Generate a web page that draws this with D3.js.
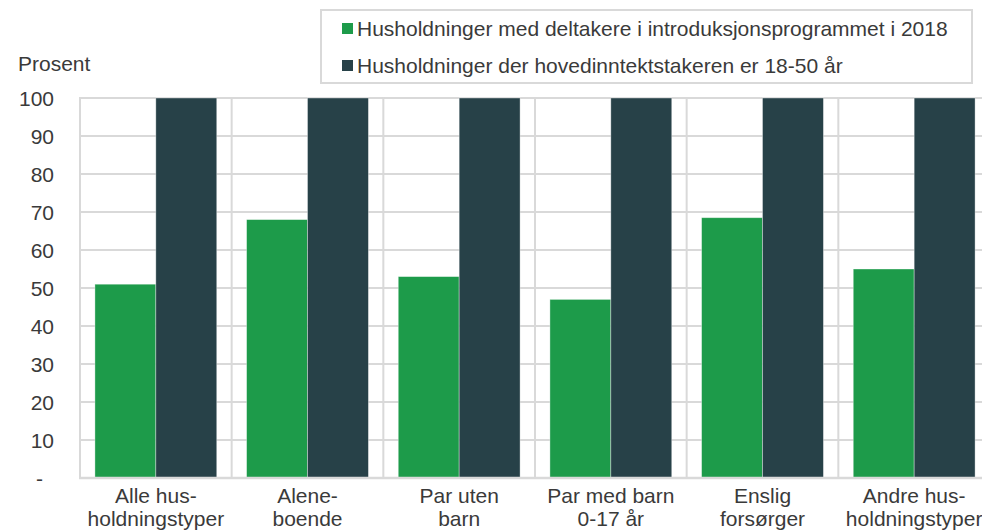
<!DOCTYPE html>
<html>
<head>
<meta charset="utf-8">
<script src="https://cdn.jsdelivr.net/npm/d3@7"></script>
<style>
  html, body { margin: 0; padding: 0; background: #fff; overflow: hidden; }
  svg { display: block; font-family: 'Liberation Sans', Arial, sans-serif; }
</style>
</head>
<body>
<script>
// category labels (two lines each)
const categories = [
  ['Alle hus-', 'holdningstyper'],
  ['Alene-', 'boende'],
  ['Par uten', 'barn'],
  ['Par med barn', '0-17 år'],
  ['Enslig', 'forsørger'],
  ['Andre hus-', 'holdningstyper']
]
const seriesNames = [
  'Husholdninger med deltakere i introduksjonsprogrammet i 2018',
  'Husholdninger der hovedinntektstakeren er 18-50 år'
]
const introValues = [51, 68, 53, 47, 68.5, 55]
const allValues = [100, 100, 100, 100, 100, 100]
const yTicks = [0, 10, 20, 30, 40, 50, 60, 70, 80, 90, 100]
const yTickLabels = ['-', '10', '20', '30', '40', '50', '60', '70', '80', '90', '100']

const colors = ['#1d9b4a', '#274148']
const textColor = '#3a3a3a'
const fontSize = 21
const width = 982
const height = 531
const plot = { left: 80, right: 990, top: 98, bottom: 478 }

const svg = d3.select('body').append('svg')
  .attr('width', width)
  .attr('height', height)

const x = d3.scaleBand()
  .domain(d3.range(categories.length))
  .range([plot.left, plot.right])

const xInner = d3.scaleBand()
  .domain([0, 1])
  .range([0, x.bandwidth()])
  .paddingOuter(0.245)
  .paddingInner(0)

const y = d3.scaleLinear().domain([0, 100]).range([plot.bottom, plot.top])

// horizontal gridlines
svg.append('g')
  .selectAll('line')
  .data(yTicks.slice(1))
  .enter().append('line')
  .attr('x1', plot.left)
  .attr('x2', plot.right)
  .attr('y1', d => y(d))
  .attr('y2', d => y(d))
  .attr('stroke', '#d9d9d9')
  .attr('stroke-width', 2)

// vertical separators between categories
svg.append('g')
  .selectAll('line')
  .data(d3.range(categories.length + 1))
  .enter().append('line')
  .attr('x1', i => plot.left + i * x.step())
  .attr('x2', i => plot.left + i * x.step())
  .attr('y1', plot.top - 1)
  .attr('y2', plot.bottom)
  .attr('stroke', '#d9d9d9')
  .attr('stroke-width', 2)

// bars
const series = [introValues, allValues]
series.forEach((values, s) => {
  svg.append('g')
    .selectAll('rect')
    .data(values)
    .enter().append('rect')
    .attr('x', (d, i) => x(i) + xInner(s))
    .attr('y', d => y(d))
    .attr('width', xInner.bandwidth())
    .attr('height', d => y(0) - y(d))
    .attr('fill', colors[s])
    .attr('stroke', 'rgba(255,255,255,0.45)')
    .attr('stroke-width', 0.8)
})

// baseline
svg.append('line')
  .attr('x1', plot.left - 1)
  .attr('x2', plot.right)
  .attr('y1', y(0))
  .attr('y2', y(0))
  .attr('stroke', '#d9d9d9')
  .attr('stroke-width', 2.5)

// y axis labels
const yAxis = d3.axisLeft(y)
  .tickValues(yTicks)
  .tickFormat((d, i) => yTickLabels[i])
  .tickSize(0)
  .tickPadding(0)

const yg = svg.append('g')
  .attr('transform', 'translate(54,0)')
  .call(yAxis)
yg.select('.domain').remove()
yg.selectAll('text')
  .attr('font-size', fontSize)
  .attr('font-family', "'Liberation Sans', Arial, sans-serif")
  .attr('fill', textColor)
  .attr('dy', '0.35em')
  .attr('dx', d => d === 0 ? -11 : 0)

svg.append('text')
  .attr('x', 18)
  .attr('y', 71)
  .attr('font-size', fontSize)
  .attr('fill', textColor)
  .text('Prosent')

// x axis labels
const xl = svg.append('g')
  .selectAll('text')
  .data(categories)
  .enter().append('text')
  .attr('text-anchor', 'middle')
  .attr('font-size', fontSize)
  .attr('fill', textColor)
xl.append('tspan')
  .attr('x', (d, i) => x(i) + x.bandwidth() / 2)
  .attr('y', 503)
  .text(d => d[0])
xl.append('tspan')
  .attr('x', (d, i) => x(i) + x.bandwidth() / 2)
  .attr('y', 526)
  .text(d => d[1])

// legend
const legend = svg.append('g')
legend.append('rect')
  .attr('x', 321)
  .attr('y', 10)
  .attr('width', 651)
  .attr('height', 73)
  .attr('fill', '#fff')
  .attr('stroke', '#d9d9d9')
  .attr('stroke-width', 2)

seriesNames.forEach((name, i) => {
  const rowY = 29 + i * 37
  legend.append('rect')
    .attr('x', 342)
    .attr('y', rowY - 6)
    .attr('width', 11)
    .attr('height', 11)
    .attr('fill', colors[i])
  legend.append('text')
    .attr('x', 357)
    .attr('y', rowY + 7)
    .attr('font-size', fontSize)
    .attr('fill', textColor)
    .text(name)
})
</script>
</body>
</html>
